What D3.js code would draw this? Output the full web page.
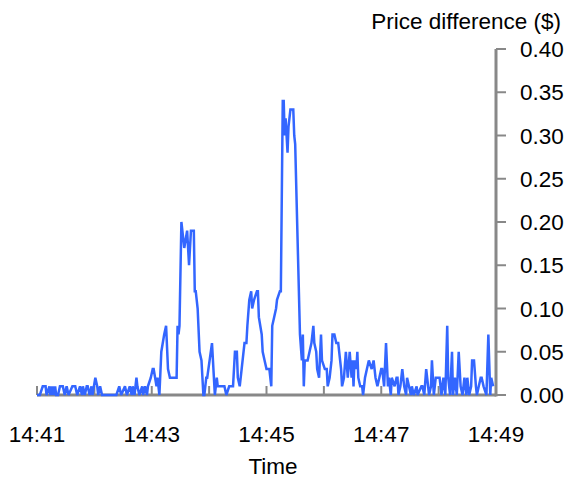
<!DOCTYPE html>
<html>
<head>
<meta charset="utf-8">
<script src="https://cdn.jsdelivr.net/npm/d3@7"></script>
<style>
  html, body { margin: 0; padding: 0; background: #fff; }
  svg { display: block; font-family: "Liberation Sans", Arial, sans-serif; }
</style>
</head>
<body>
<svg id="chart" width="567" height="478"></svg>
<script>
// Seconds after 14:41:00
const secs = [0,3,6,9,10,13,14,15,16,17,18,19,20,22,24,27,29,31,33,37,40,42,45,47,48,50,52,53,55,57,58,61,63,64,66,68,83,86,88,92,94,97,99,100,102,104,105,107,110,111,113,115,116,119,121,122,125,126,128,130,133,135,137,139,146,147,148,149,151,154,157,159,161,164,165,166,168,170,172,173,174,175,177,178,183,186,188,189,196,198,201,205,207,209,210,212,214,217,219,220,222,224,225,227,230,231,232,235,236,238,240,243,245,246,248,250,251,254,255,257,258,259,260,261,262,263,265,268,269,270,275,277,278,279,280,283,285,287,289,290,292,293,295,297,298,301,303,304,306,308,309,311,313,315,318,319,321,323,325,327,329,330,331,332,334,335,336,338,340,341,343,345,347,350,352,354,356,358,360,361,363,365,367,368,370,371,374,376,377,378,380,382,384,386,387,389,391,392,394,397,398,402,403,405,407,408,410,412,413,415,417,421,423,425,427,429,430,432,434,435,437,439,441,443,445,447,449,450,452,454,455,457,459,460,462,464,465,467,470,472,474,475,477];
// Price difference ($)
const values = [0,0,0.01,0.01,0,0.01,0,0.01,0,0.01,0,0.01,0,0,0.01,0.01,0,0.01,0,0.01,0.01,0,0.01,0,0.01,0,0.01,0.01,0,0.01,0,0.02,0.01,0,0.01,0,0,0.01,0,0.01,0,0.01,0,0.01,0,0.02,0.01,0,0.01,0,0.01,0,0.01,0.02,0.03,0.03,0.01,0.02,0,0.05,0.07,0.08,0.03,0.02,0.02,0.08,0.07,0.08,0.20,0.17,0.19,0.15,0.19,0.19,0.12,0.12,0.10,0.05,0.04,0.02,0,0,0.02,0.02,0.06,0,0.02,0.01,0.01,0,0.01,0.01,0.05,0.05,0.02,0.01,0.03,0.06,0.06,0.08,0.11,0.12,0.10,0.11,0.12,0.12,0.09,0.07,0.05,0.04,0.03,0.03,0.01,0.08,0.09,0.10,0.11,0.12,0.12,0.34,0.34,0.30,0.32,0.30,0.28,0.31,0.33,0.33,0.30,0.29,0.07,0.04,0.07,0.01,0.04,0.04,0.05,0.06,0.08,0.06,0.05,0.03,0.02,0.07,0.04,0.03,0.03,0.01,0.02,0.04,0.07,0.07,0.06,0.06,0.03,0.01,0.02,0.05,0.02,0.05,0.02,0.04,0.01,0.04,0.03,0.05,0.02,0.01,0.01,0,0.02,0.03,0.04,0.03,0.04,0.02,0.01,0.02,0.03,0.03,0.01,0.06,0.01,0.02,0,0.02,0.01,0.02,0.02,0,0.01,0.03,0.01,0,0.02,0.01,0,0.01,0,0.01,0,0.01,0.01,0,0.03,0.02,0,0.01,0.04,0,0.02,0.02,0,0.02,0,0.08,0.02,0,0.05,0,0.02,0,0.05,0.01,0,0.02,0,0.02,0,0.01,0.04,0.04,0.01,0,0.01,0.02,0.02,0.01,0,0.07,0,0.02,0.01];
const yTicks = [0, 0.05, 0.10, 0.15, 0.20, 0.25, 0.30, 0.35, 0.40];
const xLabelMinutes = [41, 43, 45, 47, 49];
const xTickMinutes = [41, 42, 43, 44, 45, 46, 47, 48, 49];
const yTitle = "Price difference ($)";
const xTitle = "Time";

const t0 = (s) => new Date(2000, 0, 1, 14, 41, s);
const data = secs.map((s, i) => ({ t: t0(s), v: values[i] }));

const svg = d3.select("#chart");
const x = d3.scaleTime()
  .domain([new Date(2000, 0, 1, 14, 41, 0), new Date(2000, 0, 1, 14, 49, 0)])
  .range([37, 496]);
const y = d3.scaleLinear().domain([0, 0.4]).range([395, 49]);

const axisColor = "#888888";
const fontSize = 22.5;

// X axis baseline
svg.append("line")
  .attr("x1", x.range()[0]).attr("x2", x.range()[1])
  .attr("y1", y(0)).attr("y2", y(0))
  .attr("stroke", axisColor).attr("stroke-width", 3);

// X minute ticks (pointing up)
const xt = xTickMinutes.map(m => new Date(2000, 0, 1, 14, m, 0));
svg.append("g").selectAll("line").data(xt).join("line")
  .attr("x1", d => x(d)).attr("x2", d => x(d))
  .attr("y1", y(0)).attr("y2", y(0) - 9)
  .attr("stroke", axisColor).attr("stroke-width", 2);

// X labels
const fmt = d3.timeFormat("%H:%M");
svg.append("g").selectAll("text").data(xLabelMinutes.map(m => new Date(2000, 0, 1, 14, m, 0))).join("text")
  .attr("x", d => x(d)).attr("y", 442)
  .attr("text-anchor", "middle")
  .attr("font-size", fontSize).attr("fill", "#000")
  .text(d => fmt(d));

svg.append("text")
  .attr("x", 273).attr("y", 474)
  .attr("text-anchor", "middle")
  .attr("font-size", fontSize).attr("fill", "#000")
  .text(xTitle);

// Y axis
const axisX = 496;
svg.append("line")
  .attr("x1", axisX).attr("x2", axisX)
  .attr("y1", y(0.4)).attr("y2", y(0) + 1.5)
  .attr("stroke", axisColor).attr("stroke-width", 3);

svg.append("g").selectAll("line").data(yTicks).join("line")
  .attr("x1", axisX).attr("x2", axisX + 10)
  .attr("y1", d => y(d)).attr("y2", d => y(d))
  .attr("stroke", axisColor).attr("stroke-width", 2);

svg.append("g").selectAll("text").data(yTicks).join("text")
  .attr("x", 520).attr("y", d => y(d))
  .attr("dy", "0.36em")
  .attr("font-size", fontSize).attr("fill", "#000")
  .text(d => d3.format(".2f")(d));

svg.append("text")
  .attr("x", 561).attr("y", 29)
  .attr("text-anchor", "end")
  .attr("font-size", fontSize).attr("fill", "#000")
  .text(yTitle);

// Line
const line = d3.line().x(d => x(d.t)).y(d => y(d.v));
svg.append("path")
  .datum(data)
  .attr("d", line)
  .attr("fill", "none")
  .attr("stroke", "#3366ff")
  .attr("stroke-width", 2.5)
  .attr("stroke-linejoin", "miter")
  .attr("stroke-miterlimit", 2);
</script>
</body>
</html>
